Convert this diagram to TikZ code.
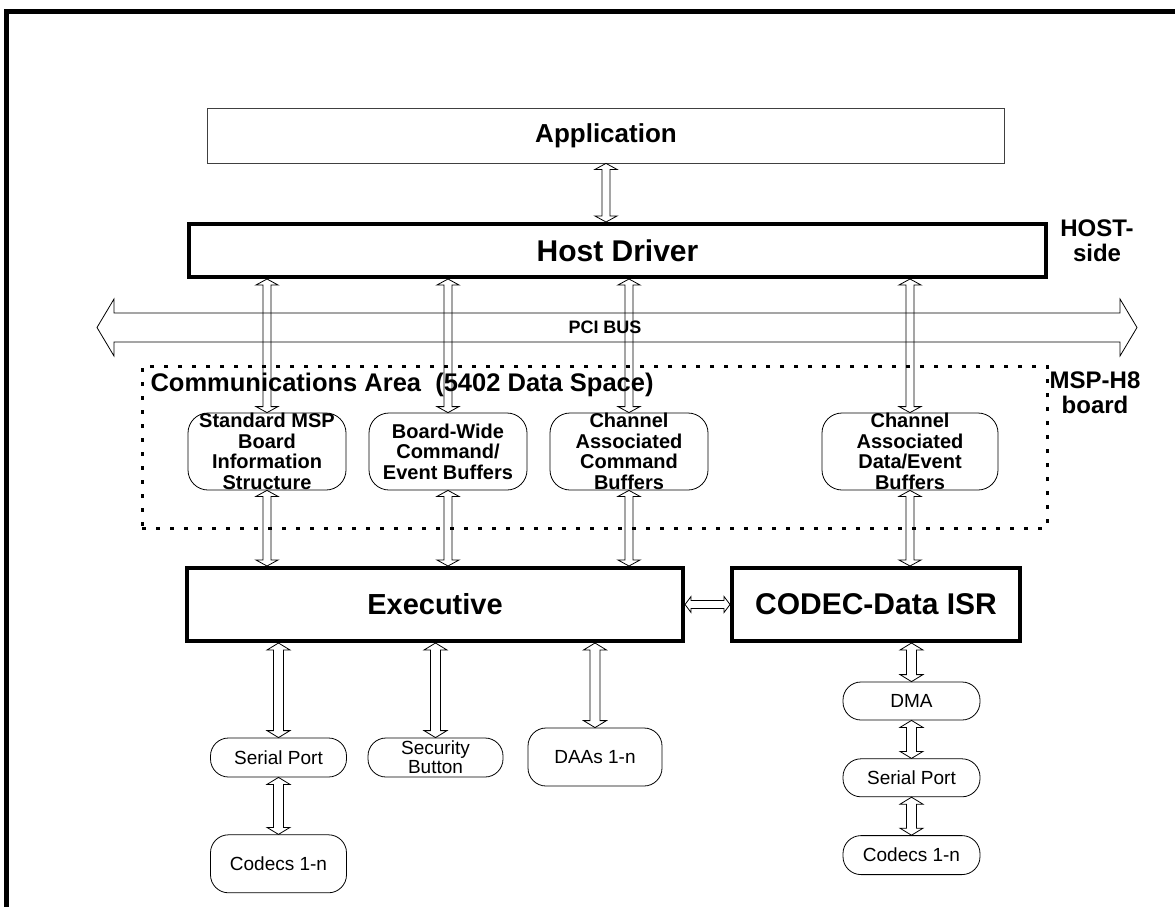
\documentclass[tikz,border=0pt]{standalone}
\usepackage{fontspec}
\setmainfont{Liberation Sans}
\usetikzlibrary{calc,positioning}

\tikzset{
  arrow shaft/.store in=\arshaft, arrow shaft=4pt,
  arrow head/.store in=\arhead, arrow head=11pt,
  arrow len/.store in=\arlen, arrow len=6pt,
  dblarrow/.style={draw, line width=0.8pt, line join=miter, to path={
      ($(\tikztostart)!\arlen!(\tikztotarget)!\arhead!90:(\tikztotarget)$) -- (\tikztostart)
      -- ($(\tikztostart)!\arlen!(\tikztotarget)!\arhead!-90:(\tikztotarget)$)
      -- ($(\tikztostart)!\arlen!(\tikztotarget)!\arshaft!-90:(\tikztotarget)$)
      -- ($(\tikztotarget)!\arlen!(\tikztostart)!\arshaft!90:(\tikztostart)$)
      -- ($(\tikztotarget)!\arlen!(\tikztostart)!\arhead!90:(\tikztostart)$)
      -- (\tikztotarget)
      -- ($(\tikztotarget)!\arlen!(\tikztostart)!\arhead!-90:(\tikztostart)$)
      -- ($(\tikztotarget)!\arlen!(\tikztostart)!\arshaft!-90:(\tikztostart)$)
      -- ($(\tikztostart)!\arlen!(\tikztotarget)!\arshaft!90:(\tikztotarget)$)
      -- cycle}},
  lowarrow/.style={dblarrow, arrow shaft=5pt, arrow head=11.5pt, arrow len=7pt},
}

\begin{document}
\begin{tikzpicture}[x=1pt, y=-1pt,
    thickbox/.style={draw, line width=4pt, inner sep=0pt},
    buffer/.style={draw, line width=0.8pt, rounded corners=20pt, minimum width=158pt,
      minimum height=77pt, align=center, inner sep=0pt,
      font=\fontsize{20}{20.5}\selectfont\bfseries},
    pill/.style={draw, line width=0.8pt, rounded corners=18pt, minimum width=136pt,
      minimum height=39pt, align=center, inner sep=0pt,
      font=\fontsize{19}{19}\selectfont},
    side/.style={align=center, font=\fontsize{24}{25}\selectfont\bfseries},
    node distance=38pt]
  \useasboundingbox (0,0) rectangle (1175,907);
  % frame
  \draw[line width=5pt] (1175,12) -- (6.5,12) -- (6.5,907);

  % host side
  \node[draw=black!75, line width=0.8pt, minimum width=797pt, minimum height=55pt,
    font=\fontsize{26}{28}\selectfont\bfseries] (app) at (606,135.5) {Application};
  \node[thickbox, minimum width=857pt, minimum height=53pt,
    font=\fontsize{30}{32}\selectfont\bfseries] (host) at (617.5,250.5) {Host Driver};
  \node[side] (hostside) at (1097,241) {HOST-\\side};

  % PCI bus
  \coordinate (pciL) at (97,327.5);
  \coordinate (pciR) at (1137,327.5);
  \draw[dblarrow, arrow shaft=14.5pt, arrow head=28.5pt, arrow len=17pt] (pciL) to (pciR);
  \node[font=\fontsize{18}{18}\selectfont\bfseries] (pci) at (605,327.5) {PCI BUS};

  % communications area
  \node[draw, line width=3pt, dash pattern=on 4pt off 10pt, minimum width=905pt,
    minimum height=162pt] (comm) at (594.5,447) {};
  \node[anchor=west, font=\fontsize{25.5}{26}\selectfont\bfseries] (commlabel) at (147,385)
    {Communications Area\ \ (5402 Data Space)};
  \node[side] (board) at (1095,393) {MSP-H8\\board};

  \node[buffer] (info) at (267,451.5) {Standard MSP\\Board\\Information\\Structure};
  \node[buffer] (bwide) at (448,451.5) {Board-Wide\\Command/\\Event Buffers};
  \node[buffer] (chcmd) at (629,451.5) {Channel\\Associated\\Command\\Buffers};
  \node[buffer, minimum width=176pt] (chdata) at (910,451.5) {Channel\\Associated\\Data/Event\\Buffers};

  % board side
  \node[thickbox, minimum width=496pt, minimum height=73pt,
    font=\fontsize{29}{31}\selectfont\bfseries] (exec) at (435,604.5) {Executive};
  \node[thickbox, minimum width=288pt, minimum height=73pt,
    font=\fontsize{30}{32}\selectfont\bfseries] (codec) at (876,604.5) {CODEC-Data ISR};

  \node[pill] (serA) at (278.5,757.5) {Serial Port};
  \node[pill, minimum height=58pt, below=57pt of serA] (codA) {Codecs 1-n};
  \node[pill, minimum width=135pt] (secb) at (435.5,757.5) {Security\\Button};
  \node[pill, minimum width=134pt, minimum height=58pt] (daa) at (595,757) {DAAs 1-n};

  \node[pill, minimum width=137pt, minimum height=38pt] (dma) at (911.5,701) {DMA};
  \node[pill, minimum width=137pt, minimum height=38pt, below=of dma] (serB) {Serial Port};
  \node[pill, minimum width=137pt, below=of serB] (codB) {Codecs 1-n};

  % connectors
  \draw[dblarrow] (app.south) to (app.south |- host.north);
  \foreach \b in {info,bwide,chcmd,chdata}
    \draw[dblarrow] (host.south -| \b.north) to (\b.north);
  \foreach \b in {info,bwide,chcmd}
    \draw[dblarrow] (\b.south) to (\b.south |- exec.north);
  \draw[dblarrow] (chdata.south) to (chdata.south |- codec.north);
  \draw[dblarrow, arrow head=8pt] (exec.east) to (codec.west);

  \foreach \b in {serA,secb,daa}
    \draw[lowarrow] (\b.north |- exec.south) to (\b.north);
  \draw[lowarrow] (serA.south) to (codA.north);
  \draw[lowarrow] (dma.north |- codec.south) to (dma.north);
  \draw[lowarrow] (dma.south) to (serB.north);
  \draw[lowarrow] (serB.south) to (codB.north);
\end{tikzpicture}
\end{document}
